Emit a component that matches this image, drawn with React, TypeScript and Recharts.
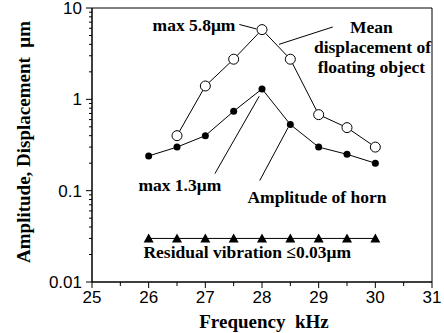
import {
  ComposedChart,
  Line,
  XAxis,
  YAxis,
  ReferenceArea,
  ReferenceLine,
  ReferenceDot,
} from "recharts";

// Frequency (kHz)
const freqs = [26, 26.5, 27, 27.5, 28, 28.5, 29, 29.5, 30];
// Mean displacement of floating object (µm)
const meanDisp = [null, 0.4, 1.4, 2.75, 5.8, 2.75, 0.68, 0.49, 0.3];
// Amplitude of horn (µm)
const hornAmp = [0.24, 0.3, 0.4, 0.74, 1.3, 0.53, 0.3, 0.25, 0.2];
// Residual vibration (µm)
const residual = [0.03, 0.03, 0.03, 0.03, 0.03, 0.03, 0.03, 0.03, 0.03];

const xTicks = [25, 25.5, 26, 26.5, 27, 27.5, 28, 28.5, 29, 29.5, 30, 30.5, 31];
const yTicks = [
  0.01, 0.02, 0.03, 0.04, 0.05, 0.06, 0.07, 0.08, 0.09,
  0.1, 0.2, 0.3, 0.4, 0.5, 0.6, 0.7, 0.8, 0.9,
  1, 2, 3, 4, 5, 6, 7, 8, 9, 10,
];

// text annotations, in data coordinates
const notes = [
  { x: 26.8, y: 6.6, text: "max 5.8μm" },
  { x: 29.93, y: 6.2, text: "Mean" },
  { x: 29.95, y: 3.72, text: "displacement of" },
  { x: 29.93, y: 2.3, text: "floating object" },
  { x: 26.55, y: 0.116, text: "max 1.3μm" },
  { x: 28.97, y: 0.086, text: "Amplitude of horn" },
  { x: 27.74, y: 0.0214, text: "Residual vibration ≤0.03μm" },
];

// pointer lines
const pointers = [
  [{ x: 27.6, y: 6.6 }, { x: 27.9, y: 5.9 }],
  [{ x: 28.3, y: 4.0 }, { x: 29.25, y: 6.2 }],
  [{ x: 27.95, y: 1.08 }, { x: 27.17, y: 0.154 }],
  [{ x: 28.46, y: 0.49 }, { x: 27.96, y: 0.129 }],
];

const data = freqs.map((f, i) => ({
  f,
  mean: meanDisp[i],
  horn: hornAmp[i],
  res: residual[i],
}));

const TICK_FONT = "'Liberation Sans', Arial, sans-serif";
const SERIF = "'Liberation Serif', 'Times New Roman', serif";

const isMajorLog = (v: number) => {
  const l = Math.log10(v);
  return Math.abs(l - Math.round(l)) < 1e-6;
};

function XTick(props: any) {
  const { x, y, payload } = props;
  const major = Number.isInteger(payload.value);
  return (
    <g>
      <line x1={x} x2={x} y1={y} y2={y + (major ? 6 : 4)} stroke="#000" />
      {major && (
        <text x={x} y={y + 21} textAnchor="middle" fontSize={17} fontFamily={TICK_FONT} fill="#000">
          {payload.value}
        </text>
      )}
    </g>
  );
}

function YTick(props: any) {
  const { x, y, payload } = props;
  const major = isMajorLog(payload.value);
  return (
    <g>
      <line x1={x} x2={x - (major ? 6 : 3)} y1={y} y2={y} stroke="#000" />
      {major && (
        <text x={x - 10} y={y + 6} textAnchor="end" fontSize={17} fontFamily={TICK_FONT} fill="#000">
          {payload.value}
        </text>
      )}
    </g>
  );
}

function Triangle(props: any) {
  const { cx, cy } = props;
  if (cx == null || cy == null) return <g />;
  return <path d={`M${cx},${cy - 5}L${cx + 5},${cy + 4}L${cx - 5},${cy + 4}Z`} fill="#000" />;
}

export default function App() {
  return (
    <div style={{ position: "absolute", left: 0, top: 0, width: 444, height: 333, background: "#fff" }}>
      <ComposedChart
        width={444}
        height={333}
        data={data}
        margin={{ top: 8, right: 12, bottom: 0, left: 0 }}
      >
        <XAxis
          dataKey="f"
          type="number"
          domain={[25, 31]}
          ticks={xTicks}
          interval={0}
          tickLine={false}
          tickSize={0}
          tickMargin={0}
          tick={<XTick />}
          axisLine={{ stroke: "#000" }}
          height={51}
          label={{
            content: ({ viewBox }: any) => (
              <text
                x={viewBox.x + viewBox.width / 2 + 2}
                y={viewBox.y + 46}
                textAnchor="middle"
                fontSize={19}
                fontWeight="bold"
                fontFamily={SERIF}
                fill="#000"
              >
                {"Frequency\u00a0\u00a0kHz"}
              </text>
            ),
          }}
        />
        <YAxis
          scale="log"
          type="number"
          domain={[0.01, 10]}
          allowDataOverflow
          ticks={yTicks}
          interval={0}
          tickLine={false}
          tickSize={0}
          tickMargin={0}
          tick={<YTick />}
          axisLine={{ stroke: "#000" }}
          width={92}
          label={{
            content: ({ viewBox }: any) => {
              const cx = viewBox.x + 23;
              const cy = viewBox.y + viewBox.height / 2 - 3;
              return (
                <text
                  x={cx}
                  y={cy}
                  transform={`rotate(-90 ${cx} ${cy})`}
                  textAnchor="middle"
                  dominantBaseline="central"
                  fontSize={19}
                  fontWeight="bold"
                  fontFamily={SERIF}
                  fill="#000"
                >
                  {"Amplitude, Displacement\u00a0\u00a0μm"}
                </text>
              );
            },
          }}
        />
        <ReferenceArea x1={25} x2={31} y1={0.01} y2={10} fill="none" stroke="#000" strokeWidth={1} />
        {pointers.map((seg, i) => (
          <ReferenceLine key={i} segment={seg} stroke="#000" strokeWidth={1} />
        ))}
        <Line
          dataKey="res"
          stroke="#000"
          strokeWidth={1}
          dot={<Triangle />}
          isAnimationActive={false}
        />
        <Line
          dataKey="horn"
          stroke="#000"
          strokeWidth={1}
          dot={{ r: 3.5, fill: "#000", stroke: "#000", strokeWidth: 0 }}
          isAnimationActive={false}
        />
        <Line
          dataKey="mean"
          stroke="#000"
          strokeWidth={1}
          dot={{ r: 5, fill: "#fff", stroke: "#000", strokeWidth: 1 }}
          isAnimationActive={false}
        />
        {notes.map((n) => (
          <ReferenceDot
            key={n.text}
            x={n.x}
            y={n.y}
            r={0}
            fill="none"
            stroke="none"
            label={{
              value: n.text,
              position: "center",
              fill: "#000",
              fontSize: 17.5,
              fontWeight: "bold",
              fontFamily: SERIF,
            }}
          />
        ))}
      </ComposedChart>
    </div>
  );
}
